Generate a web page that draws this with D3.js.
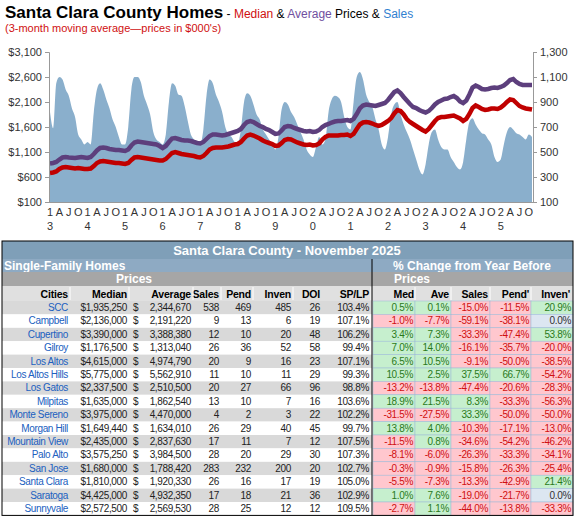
<!DOCTYPE html>
<html><head><meta charset="utf-8">
<script src="https://cdn.jsdelivr.net/npm/d3@7"></script>
<style>body{margin:0;background:#fff}svg{font-family:"Liberation Sans",Arial,sans-serif}</style>
</head><body><svg id="c" width="575" height="519"></svg>
<script>
const sales=[820,690,1050,1100,1080,1000,950,850,780,640,600,560,
580,560,820,1000,1050,1000,920,850,760,700,620,560,
560,700,1000,1100,1100,1060,950,880,800,660,600,580,
560,640,900,1050,1030,960,950,870,750,640,600,560,
560,680,950,1080,1050,960,900,820,700,640,620,580,
570,680,900,970,950,880,800,760,680,640,600,560,
520,620,840,900,880,820,780,720,660,600,520,480,
460,540,620,560,600,820,920,950,940,900,780,700,
680,900,1100,1140,1080,960,900,860,760,680,560,520,
620,800,880,900,800,720,660,600,520,440,360,320,
400,560,660,680,600,540,520,520,460,420,380,360,
420,600,740,770,720,680,650,640,600,560,460,420,
440,560,660,700,680,650,640,620,600,640,620];
const average=[870,880,900,950,990,1000,990,985,980,990,1000,990,
980,1000,1060,1130,1180,1190,1180,1160,1150,1140,1140,1130,
1120,1150,1230,1290,1310,1300,1290,1280,1270,1260,1250,1220,
1180,1220,1300,1370,1380,1360,1340,1330,1330,1320,1300,1280,
1270,1300,1360,1420,1450,1450,1440,1430,1440,1460,1480,1500,
1520,1560,1640,1700,1720,1700,1660,1620,1600,1560,1540,1500,
1460,1470,1530,1600,1620,1610,1580,1560,1540,1520,1510,1520,
1500,1510,1540,1600,1640,1660,1690,1710,1720,1720,1730,1740,
1720,1760,1860,1970,2030,2050,2040,2030,2020,2040,2060,2080,
2140,2220,2300,2330,2280,2200,2130,2060,2000,1980,1940,1910,
1890,1920,1980,2050,2100,2130,2160,2170,2200,2220,2180,2110,
2080,2130,2250,2390,2430,2400,2360,2350,2360,2380,2390,2380,
2400,2430,2480,2540,2560,2500,2460,2440,2440,2440,2440];
const median=[680,690,710,760,790,800,790,780,770,780,770,760,
760,770,820,880,910,920,910,900,890,880,880,870,
860,880,940,990,1000,990,980,970,960,950,940,930,
930,960,1020,1080,1100,1080,1060,1050,1040,1030,1020,1000,
990,1020,1080,1150,1180,1190,1190,1190,1200,1210,1230,1250,
1260,1300,1370,1430,1450,1430,1400,1370,1330,1300,1280,1260,
1220,1230,1280,1340,1360,1350,1320,1290,1270,1250,1240,1250,
1230,1240,1270,1350,1400,1430,1430,1430,1430,1440,1440,1450,
1420,1460,1560,1650,1690,1700,1690,1670,1640,1620,1640,1680,
1720,1780,1870,1940,1920,1850,1760,1700,1660,1620,1580,1540,
1510,1560,1640,1720,1780,1800,1800,1810,1820,1830,1800,1770,
1720,1760,1860,1980,2030,2000,1960,1940,1950,1970,1970,1960,
1990,2040,2100,2150,2140,2080,2020,1990,1970,1960,1950];
const leftTicks=[100,600,1100,1600,2100,2600,3100];
const rightTicks=[100,300,500,700,900,1100,1300];
const monthLabels={0:null,3:"A",6:"J",9:"O"};
const startYear=2013;

const cities=["SCC","Campbell","Cupertino","Gilroy","Los Altos","Los Altos Hills","Los Gatos","Milpitas","Monte Sereno","Morgan Hill","Mountain View","Palo Alto","San Jose","Santa Clara","Saratoga","Sunnyvale"];
const medianPrice=["$1,935,250","$2,136,000","$3,390,000","$1,176,500","$4,615,000","$5,775,000","$2,337,500","$1,635,000","$3,975,000","$1,649,440","$2,435,000","$3,575,250","$1,680,000","$1,810,000","$4,425,000","$2,572,500"];
const averagePrice=["2,344,670","2,191,220","3,388,380","1,313,040","4,974,790","5,562,910","2,510,500","1,862,540","4,470,000","1,634,010","2,837,630","3,984,500","1,788,420","1,920,330","4,932,350","2,569,530"];
const salesCount=[538,9,12,26,20,11,20,13,4,26,17,28,283,26,17,28];
const pending=[469,13,10,36,9,10,27,10,2,29,11,20,232,16,18,25];
const inventory=[485,6,20,52,16,11,66,7,3,40,7,29,200,17,21,12];
const doi=[26,19,48,58,23,29,96,16,22,45,12,30,20,19,36,12];
const spLp=["103.4%","107.1%","106.2%","99.4%","107.1%","99.3%","98.8%","103.6%","102.2%","99.7%","107.5%","107.3%","102.7%","105.0%","102.9%","109.5%"];
const chgMed=[0.5,-1.0,3.4,7.0,6.5,10.5,-13.2,18.9,-31.5,13.8,-11.5,-8.1,-0.3,-5.5,1.0,-2.7];
const chgAve=[0.1,-7.7,7.3,14.0,10.5,2.5,-13.8,21.5,-27.5,4.0,0.8,-6.0,-0.9,-7.3,7.6,1.1];
const chgSales=[-15.0,-59.1,-33.3,-16.1,-9.1,37.5,-47.4,8.3,33.3,-10.3,-34.6,-26.3,-15.8,-13.3,-19.0,-44.0];
const chgPend=[-11.5,-38.1,-47.4,-35.7,-50.0,66.7,-20.6,-33.3,-50.0,-17.1,-54.2,-33.3,-26.3,-42.9,-21.7,-13.8];
const chgInven=[20.9,0.0,53.8,-20.0,-38.5,-54.2,-28.3,-56.3,-50.0,-13.0,-46.2,-34.1,-25.4,21.4,0.0,-33.3];

const svg=d3.select("#c");
const t=svg.append("text").attr("x",5).attr("y",18);
t.append("tspan").text("Santa Clara County Homes").attr("font-size",17).attr("font-weight","bold").attr("fill","#000");
t.append("tspan").text(" - ").attr("font-size",12);
t.append("tspan").text("Median").attr("font-size",12).attr("fill","#d01010");
t.append("tspan").text(" & ").attr("font-size",12);
t.append("tspan").text("Average").attr("font-size",12).attr("fill","#7050a0");
t.append("tspan").text(" Prices & ").attr("font-size",12);
t.append("tspan").text("Sales").attr("font-size",12).attr("fill","#3080d0");
svg.append("text").attr("x",5).attr("y",32).attr("font-size",11).attr("fill","#d01010").text("(3-month moving average\u2014prices in $000's)");

const x0=50,x1=532,yT=52,yB=202;
const n=sales.length;
const x=d3.scaleLinear().domain([0,n-1]).range([x0,x1]);
const yL=d3.scaleLinear().domain([100,3100]).range([yB,yT]);
const yR=d3.scaleLinear().domain([100,1300]).range([yB,yT]);
const g=svg.append("g");
g.append("path").datum(sales).attr("fill","#8aafcc")
 .attr("d",d3.area().x((d,i)=>x(i)).y0(yB).y1(d=>yR(d)).curve(d3.curveMonotoneX));
g.append("path").datum(average).attr("fill","none").attr("stroke","#5d3f7d").attr("stroke-width",4.5)
 .attr("d",d3.line().x((d,i)=>x(i)).y(d=>yL(d)));
g.append("path").datum(median).attr("fill","none").attr("stroke","#c00000").attr("stroke-width",4.5)
 .attr("d",d3.line().x((d,i)=>x(i)).y(d=>yL(d)));
const la=svg.append("g").attr("transform",`translate(${x0-1},0)`).call(d3.axisLeft(yL).tickValues(leftTicks).tickSize(4).tickFormat(d=>"$"+d3.format(",")(d)));
const ra=svg.append("g").attr("transform",`translate(${x1+1},0)`).call(d3.axisRight(yR).tickValues(rightTicks).tickSize(4).tickFormat(d3.format(",")));
[la,ra].forEach(a=>{a.selectAll("text").attr("font-size",11).attr("fill","#333").attr("font-family","Liberation Sans, Arial");a.selectAll("line,path").attr("stroke","#999");});
svg.append("line").attr("x1",x0-1).attr("x2",x1+1).attr("y1",yB+0.5).attr("y2",yB+0.5).attr("stroke","#999");
for(let i=0;i<n;i++){
  const m=i%12; if(!(m in monthLabels)) continue;
  const yr=String(startYear+Math.floor(i/12)).slice(2);
  const lab=m===0?yr[0]:monthLabels[m];
  svg.append("text").attr("x",x(i)).attr("y",216).attr("text-anchor","middle").attr("font-size",11).attr("fill","#333").text(lab);
  if(m===0) svg.append("text").attr("x",x(i)).attr("y",230).attr("text-anchor","middle").attr("font-size",11).attr("fill","#333").text(yr[1]);
}

// Table
const tb=svg.append("g");
const TL=2,TR=573,div=372;
const FS=10, LS=-0.35;
tb.append("rect").attr("x",TL).attr("y",241).attr("width",TR-TL).attr("height",18).attr("fill","#7f9fb8");
tb.append("text").attr("x",287).attr("y",255).attr("text-anchor","middle").attr("font-size",13).attr("font-weight","bold").attr("fill","#fff").text("Santa Clara County - November 2025");
tb.append("rect").attr("x",TL).attr("y",259).attr("width",TR-TL).attr("height",13).attr("fill","#8eaac3");
tb.append("text").attr("x",4).attr("y",270).attr("font-size",12).attr("font-weight","bold").attr("fill","#fff").text("Single-Family Homes");
tb.append("text").attr("x",472).attr("y",270).attr("text-anchor","middle").attr("font-size",12).attr("font-weight","bold").attr("fill","#fff").text("% Change from Year Before");
tb.append("rect").attr("x",TL).attr("y",272).attr("width",TR-TL).attr("height",14).attr("fill","#a6a6a6");
tb.append("text").attr("x",134).attr("y",283).attr("text-anchor","middle").attr("font-size",12).attr("font-weight","bold").attr("fill","#fff").text("Prices");
tb.append("text").attr("x",412).attr("y",283).attr("text-anchor","middle").attr("font-size",12).attr("font-weight","bold").attr("fill","#fff").text("Prices");
tb.append("rect").attr("x",TL).attr("y",286).attr("width",TR-TL).attr("height",15).attr("fill","#e0e0e0");
const hdr=[["Cities",68],["Median",127],["Average",191],["Sales",219],["Pend",251],["Inven",291],["DOI",320],["SP/LP",369],["Med",414],["Ave",449],["Sales",488],["Pend'",529],["Inven'",570]];
hdr.forEach(h=>tb.append("text").attr("x",h[1]).attr("y",297.5).attr("text-anchor","end").attr("font-size",10.5).attr("letter-spacing",-0.2).attr("font-weight","bold").attr("fill","#000").text(h[0]));
[70,129,193,221,253,293,371,415,451,490,531].forEach(v=>tb.append("line").attr("x1",v).attr("x2",v).attr("y1",287).attr("y2",300).attr("stroke","#fff"));
const r0=301,rh=13.4;
const pos="#c6efce",neg="#ffc7ce",zer="#dce6f1";
const chgCols=[[chgMed,373,415],[chgAve,415,451],[chgSales,451,490],[chgPend,490,531],[chgInven,531,573]];
cities.forEach((c,i)=>{
  const y=r0+i*rh, ty=y+10;
  tb.append("rect").attr("x",TL).attr("y",y).attr("width",div-TL).attr("height",rh).attr("fill",i%2===0?"#d9d9d9":"#fff");
  tb.append("text").attr("x",68).attr("y",ty).attr("text-anchor","end").attr("font-size",FS).attr("letter-spacing",LS).attr("fill","#2060c0").text(c);
  const cells=[[medianPrice[i],127],[averagePrice[i],191],[salesCount[i],219],[pending[i],251],[inventory[i],291],[doi[i],320],[spLp[i],369]];
  cells.forEach(cl=>tb.append("text").attr("x",cl[1]).attr("y",ty).attr("text-anchor","end").attr("font-size",FS).attr("letter-spacing",LS).attr("fill","#222").text(cl[0]));
  tb.append("text").attr("x",133).attr("y",ty).attr("font-size",FS).attr("fill","#222").text("$");
  chgCols.forEach(([arr,a,b])=>{
    const v=arr[i];
    tb.append("rect").attr("x",a).attr("y",y).attr("width",b-a).attr("height",rh).attr("fill",v>0?pos:v<0?neg:zer).attr("stroke","#9ab8d8").attr("stroke-width",0.5);
    tb.append("text").attr("x",b-2).attr("y",ty).attr("text-anchor","end").attr("font-size",FS).attr("letter-spacing",LS).attr("fill",v>0?"#2a7a1a":v<0?"#d01010":"#333").text(v.toFixed(1)+"%");
  });
});
tb.append("line").attr("x1",div).attr("x2",div).attr("y1",259).attr("y2",r0+16*rh).attr("stroke","#000");
tb.append("rect").attr("x",TL).attr("y",241).attr("width",TR-TL).attr("height",r0+16*rh-241).attr("fill","none").attr("stroke","#000");
</script></body></html>
